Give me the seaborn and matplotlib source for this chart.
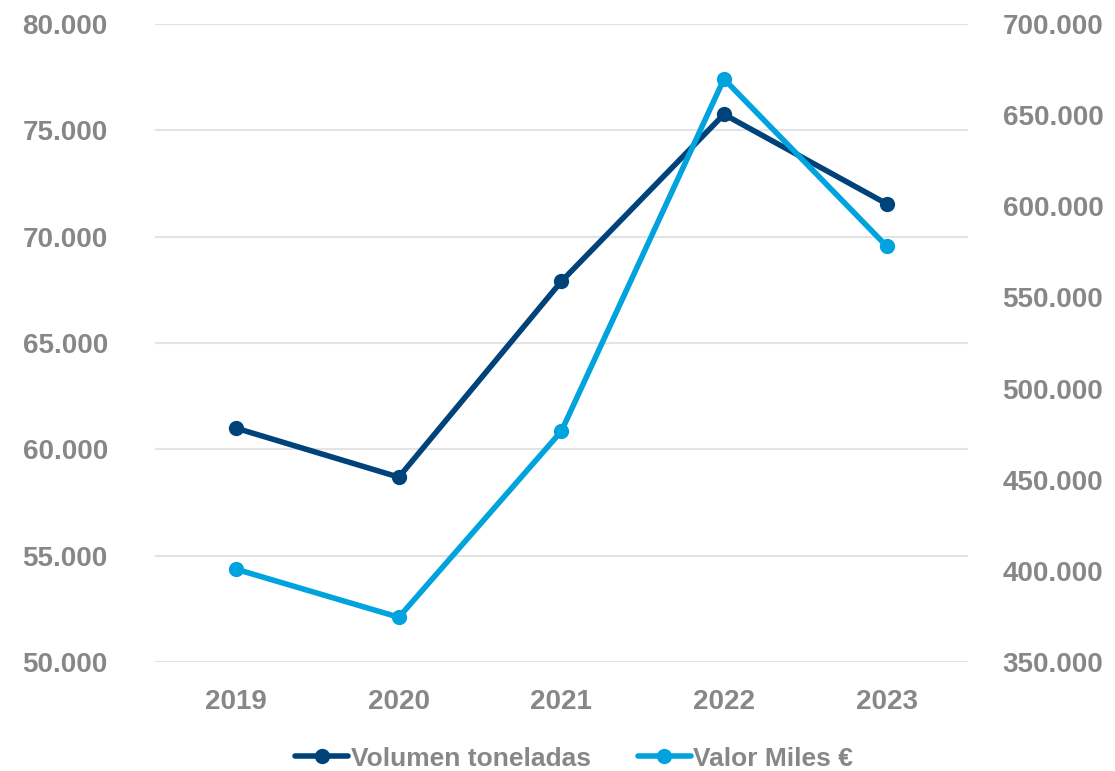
import pandas as pd
import seaborn as sns
import matplotlib.pyplot as plt
from matplotlib.ticker import FuncFormatter, FixedLocator

years = ['2019', '2020', '2021', '2022', '2023']
volumen = [61000, 58700, 67900, 75750, 71550]
valor = [401000, 374700, 476700, 669800, 578200]

dark = '#00427A'
light = '#00A3DD'
grey = '#878787'

sns.set_style('white')
plt.rcParams['font.family'] = ['Liberation Sans', 'DejaVu Sans']
plt.rcParams['font.weight'] = 'bold'

df = pd.DataFrame({'year': years, 'volumen': volumen, 'valor': valor})
df['x'] = range(len(years))

fig = plt.figure(figsize=(11.15, 7.71), dpi=100)
ax = fig.add_axes([0.139, 0.141, 0.729, 0.828])
ax2 = ax.twinx()

sns.lineplot(data=df, x='x', y='volumen', ax=ax, color=dark, lw=4, marker='o',
             markersize=11, markeredgewidth=0, label='Volumen toneladas', legend=False)
sns.lineplot(data=df, x='x', y='valor', ax=ax2, color=light, lw=4, marker='o',
             markersize=11, markeredgewidth=0, label='Valor Miles €', legend=False)

fmt = FuncFormatter(lambda v, p: f'{int(v):,}'.replace(',', '.'))

ax.set_xlim(-0.5, 4.5)
ax.set_ylim(50000, 80000)
ax.yaxis.set_major_locator(FixedLocator(range(50000, 80001, 5000)))
ax.yaxis.set_major_formatter(fmt)
ax2.set_ylim(350000, 700000)
ax2.yaxis.set_major_locator(FixedLocator(range(350000, 700001, 50000)))
ax2.yaxis.set_major_formatter(fmt)

ax.set_xticks(df['x'])
ax.set_xticklabels(years)
ax.grid(axis='y', color='#e3e3e3', lw=1.5)
ax.set_axisbelow(True)
ax.set_xlabel('')
ax.set_ylabel('')
ax2.set_ylabel('')

for a in (ax, ax2):
    for s in a.spines.values():
        s.set_visible(False)
    a.tick_params(length=0, labelsize=20, labelcolor=grey)
ax.tick_params(axis='y', pad=34)
ax.tick_params(axis='x', pad=19)
ax2.tick_params(axis='y', pad=25)
for lab in ax.get_xticklabels() + ax.get_yticklabels() + ax2.get_yticklabels():
    lab.set_fontweight('bold')

h1, l1 = ax.get_legend_handles_labels()
h2, l2 = ax2.get_legend_handles_labels()
leg = fig.legend(h1 + h2, l1 + l2, loc='center', bbox_to_anchor=(0.515, 0.016),
                 ncol=2, frameon=False, prop={'size': 19, 'weight': 'bold'},
                 handlelength=2.0, handletextpad=0.1, columnspacing=1.8)
for t in leg.get_texts():
    t.set_color(grey)

fig.savefig('out.png', dpi=100)
